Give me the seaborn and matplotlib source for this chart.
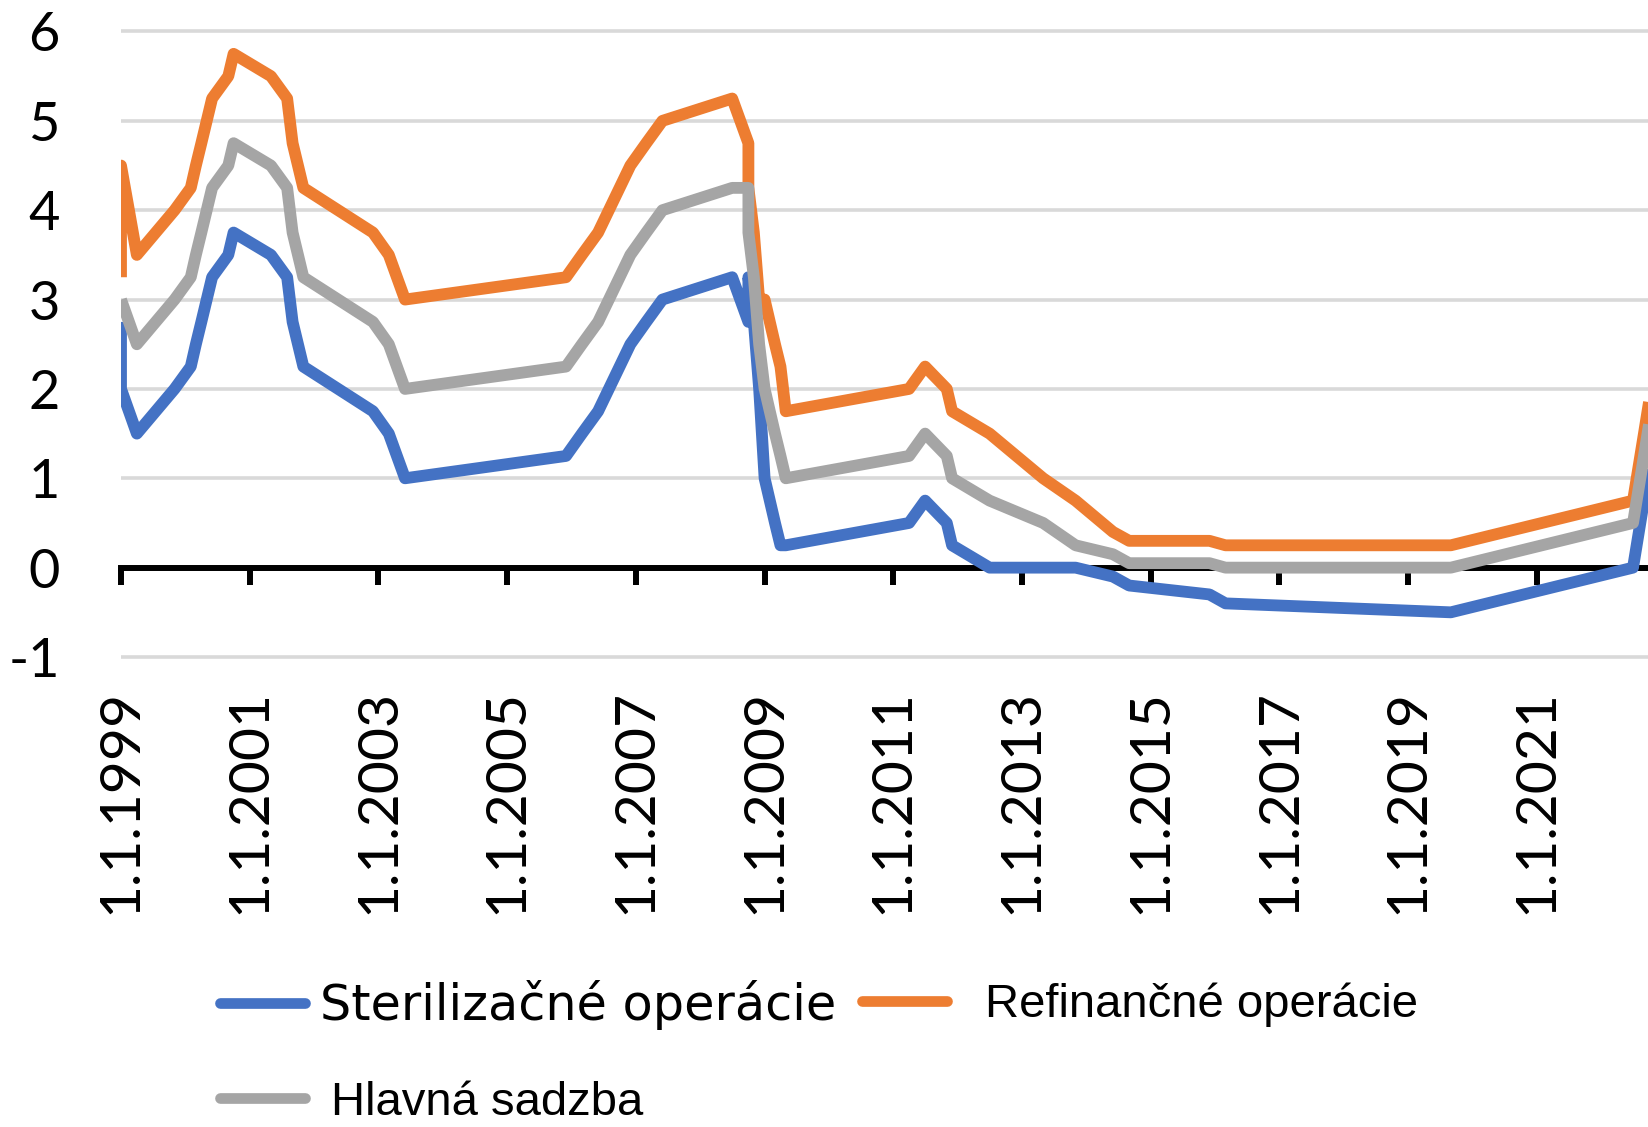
import matplotlib
matplotlib.use("Agg")
import matplotlib.pyplot as plt
import matplotlib.dates as mdates
from matplotlib.lines import Line2D
import pandas as pd
import seaborn as sns

# ECB rates, month of each change (Excel date axis with base unit = months)
months = ["1999-01", "1999-01", "1999-04", "1999-11", "2000-02", "2000-03", "2000-04",
          "2000-06", "2000-09", "2000-10", "2001-05", "2001-08", "2001-09", "2001-11",
          "2002-12", "2003-03", "2003-06", "2005-12", "2006-03", "2006-06", "2006-08",
          "2006-10", "2006-12", "2007-03", "2007-06", "2008-07", "2008-10", "2008-10",
          "2008-10", "2008-11", "2008-12", "2009-01", "2009-03", "2009-04", "2009-05",
          "2011-04", "2011-07", "2011-11", "2011-12", "2012-07", "2013-05", "2013-11",
          "2014-06", "2014-09", "2015-12", "2016-03", "2019-09", "2022-07", "2022-09",
          "2022-11"]
steril = [2.75, 2.00, 1.50, 2.00, 2.25, 2.50, 2.75, 3.25, 3.50, 3.75, 3.50, 3.25, 2.75, 2.25,
          1.75, 1.50, 1.00, 1.25, 1.50, 1.75, 2.00, 2.25, 2.50, 2.75, 3.00, 3.25, 2.75, 3.25,
          3.25, 2.75, 2.00, 1.00, 0.50, 0.25, 0.25, 0.50, 0.75, 0.50, 0.25, 0.00, 0.00, 0.00,
          -0.10, -0.20, -0.30, -0.40, -0.50, 0.00, 0.75, 1.50]
refin = [3.25, 4.50, 3.50, 4.00, 4.25, 4.50, 4.75, 5.25, 5.50, 5.75, 5.50, 5.25, 4.75, 4.25,
         3.75, 3.50, 3.00, 3.25, 3.50, 3.75, 4.00, 4.25, 4.50, 4.75, 5.00, 5.25, 4.75, 4.25,
         4.25, 3.75, 3.00, 3.00, 2.50, 2.25, 1.75, 2.00, 2.25, 2.00, 1.75, 1.50, 1.00, 0.75,
         0.40, 0.30, 0.30, 0.25, 0.25, 0.75, 1.50, 2.25]
hlavna = [3.00, 3.00, 2.50, 3.00, 3.25, 3.50, 3.75, 4.25, 4.50, 4.75, 4.50, 4.25, 3.75, 3.25,
          2.75, 2.50, 2.00, 2.25, 2.50, 2.75, 3.00, 3.25, 3.50, 3.75, 4.00, 4.25, 4.25, 4.25,
          3.75, 3.25, 2.50, 2.00, 1.50, 1.25, 1.00, 1.25, 1.50, 1.25, 1.00, 0.75, 0.50, 0.25,
          0.15, 0.05, 0.05, 0.00, 0.00, 0.50, 1.25, 2.00]

series_names = ["Sterilizačné operácie", "Refinančné operácie", "Hlavná sadzba"]
series_colors = ["#4472C4", "#ED7D31", "#A5A5A5"]
y_ticks = [-1, 0, 1, 2, 3, 4, 5, 6]
x_tick_years = [1999, 2001, 2003, 2005, 2007, 2009, 2011, 2013, 2015, 2017, 2019, 2021]

dates = pd.to_datetime([m + "-01" for m in months])
frames = []
for name, vals in zip(series_names, [steril, refin, hlavna]):
    frames.append(pd.DataFrame({"date": dates, "value": vals, "series": name}))
df = pd.concat(frames, ignore_index=True)

sns.set_style("white")
plt.rcParams["font.family"] = ["Lato", "DejaVu Sans"]
plt.rcParams["text.color"] = "black"

W, H = 1648, 1127
fig = plt.figure(figsize=(W / 100, H / 100), dpi=100)
ax_left, ax_right = 121 / W, 1.0
y0, y1 = -1.1, 6.1
top_px = 31.5 - 0.1 * 89.36
bot_px = 657 + 0.1 * 89.36
ax = fig.add_axes([ax_left, 1 - bot_px / H, ax_right - ax_left, (bot_px - top_px) / H])

sns.lineplot(data=df, x="date", y="value", hue="series", hue_order=series_names,
             palette=series_colors, estimator=None, sort=False, units="series",
             legend=False, ax=ax)
for ln in ax.lines:
    ln.set_linewidth(8.5)
    ln.set_solid_joinstyle("round")
    ln.set_solid_capstyle("butt")
    ln.set_zorder(2)

start = pd.Timestamp("1999-01-01")
ax.set_xlim(start, start + pd.Timedelta(days=8667))
ax.set_ylim(y0, y1)

ax.set_yticks(y_ticks)
ax.set_yticklabels([str(v) for v in y_ticks])
tick_dates = [pd.Timestamp(f"{y}-01-01") for y in x_tick_years]
ax.set_xticks(tick_dates)
ax.set_xticklabels([f"1.1.{y}" for y in x_tick_years], rotation=90)
ax.tick_params(axis="x", length=0, pad=16.5, labelsize=41, labelcolor="black")
ax.tick_params(axis="y", length=0, pad=44, labelsize=39, labelcolor="black")
ax.set_xlabel("")
ax.set_ylabel("")
for s in ax.spines.values():
    s.set_visible(False)
ax.yaxis.grid(True, color="#D9D9D9", linewidth=2.6)
ax.xaxis.grid(False)
ax.set_axisbelow(True)

# zero axis line with tick marks
sec = ax.secondary_xaxis((0 - y0) / (y1 - y0))
sec.set_zorder(1)
sec.set_xticks(mdates.date2num(tick_dates))
sec.tick_params(axis="x", direction="out", length=12, width=4.3, color="black",
                labelbottom=False, labeltop=False)
for s in sec.spines.values():
    s.set_linewidth(4.3)
    s.set_color("black")

def add_leg(color, label, x_px, y_px, family, size, hl, pad):
    h = Line2D([], [], color=color, lw=7.7, solid_capstyle="round")
    leg = fig.legend([h], [label], loc="center left", bbox_to_anchor=(x_px / W, 1 - y_px / H),
                     frameon=False, borderpad=0, borderaxespad=0, handlelength=hl,
                     handletextpad=pad, prop={"family": family, "size": size})
    for t in leg.get_texts():
        t.set_color("black")

add_leg(series_colors[0], series_names[0], 220, 1005, ["DejaVu Sans"], 35.5, 1.72, 0.3)
add_leg(series_colors[1], series_names[1], 862, 1005, ["Liberation Sans", "DejaVu Sans"], 34, 1.8, 0.8)
add_leg(series_colors[2], series_names[2], 220, 1103, ["Liberation Sans", "DejaVu Sans"], 34, 1.8, 0.55)

fig.savefig("out.png", dpi=100)
